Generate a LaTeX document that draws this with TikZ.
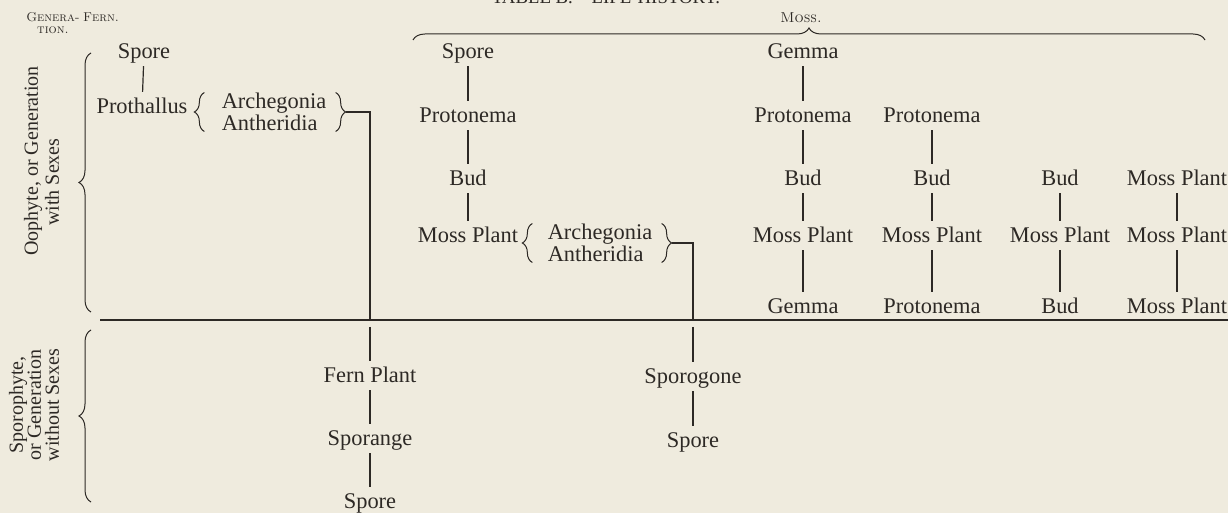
\documentclass[tikz,border=0pt]{standalone}
\usepackage{fontspec}
\newfontfamily\libro{Liberation Serif}
\usetikzlibrary{decorations.pathreplacing}
\definecolor{carta}{RGB}{239,235,222}
\definecolor{inchiostro}{RGB}{45,41,37}

\begin{document}
\begin{tikzpicture}[x=0.5pt, y=-0.5pt,
        voce/.style={inner sep=0pt, text height=7.5pt, text depth=2.3pt, text=inchiostro, font=\libro\fontsize{11.2}{12}\selectfont},
        sessi/.style={inner sep=0pt, align=left, text=inchiostro, font=\libro\fontsize{11.2}{9.5}\selectfont},
        testata/.style={inner sep=0pt, align=center, text=inchiostro, font=\fontsize{6.4}{6}\selectfont\scshape},
        lato/.style={inner sep=0pt, rotate=90, align=center, text=inchiostro, font=\libro\fontsize{10}{9}\selectfont},
        tratto/.style={draw=inchiostro, line width=0.6pt, shorten <=1.5pt, shorten >=3pt},
        graffa/.style={draw=inchiostro, line width=0.5pt, decorate, decoration={brace, amplitude=#1}},
        graffa/.default=5pt]

        % Sfondo
        \fill[carta] (0,0) rectangle (1228,513);
        \useasboundingbox (0,0) rectangle (1228,513);

        % Titolo (tagliato in alto, come nell'originale)
        \node[voce, anchor=base, font=\libro\fontsize{9.4}{10}\selectfont] (titolo) at (606,4) {TABLE B.---LIFE-HISTORY.};

        % Intestazioni
        \node[testata] (generazione) at (53,23) {Genera-\\tion.};
        \node[testata] (felce) at (101,17) {Fern.};
        \node[testata, font=\fontsize{7.2}{7}\selectfont\scshape] (muschio) at (801,18) {Moss.};

        % Generazioni: testo verticale e graffe
        \node[lato] (oofito) at (33,161) {Oophyte, or Generation};
        \node[lato] (consessi) at (52,182) {with Sexes};
        \node[lato] (sporofito) at (34,405) {Sporophyte,\\or Generation\\without Sexes};
        \draw[graffa=6pt] (91,312) -- (91,53);
        \draw[graffa=6pt] (91,502) -- (91,330);

        % Linea di separazione
        \coordinate (divA) at (100,320);
        \coordinate (divB) at (1228,320);
        \draw[inchiostro, line width=0.6pt] (divA) -- (divB);

        % Graffa sopra il muschio
        \draw[graffa=6pt] (413,40) -- (1205,40);

        % Felce
        \node[voce] (fspora) at (144,53) {Spore};
        \node[voce] (protallo) at (142,108) {Prothallus};
        \node[sessi] (fsessi) at (274,112) {Archegonia\\Antheridia};
        \node[voce] (fpianta) at (370,377) {Fern Plant};
        \node[voce] (sporangio) at (370,440) {Sporange};
        \node[voce] (fspora2) at (370,503) {Spore};
        \draw[graffa] ([xshift=-8.5pt]fsessi.south west) -- ([xshift=-8.5pt]fsessi.north west);
        \draw[graffa] ([xshift=4.5pt]fsessi.north east) -- ([xshift=4.5pt]fsessi.south east);
        \coordinate (ftaglio) at (fpianta |- divA);
        \draw[tratto, shorten <=0pt, shorten >=0pt] ([xshift=9.5pt]fsessi.east) -| (ftaglio);
        \draw[tratto, shorten <=0pt] ([yshift=-3.5pt]ftaglio) -- (fpianta);
        \foreach \a/\b in {fspora/protallo, fpianta/sporangio, sporangio/fspora2}
            \draw[tratto] (\a) -- (\b);

        % Muschio: prima colonna con organi sessuali
        \node[sessi] (msessi) at (600,243) {Archegonia\\Antheridia};
        \node[voce] (sporogonio) at (693,378) {Sporogone};
        \node[voce] (mspora2) at (693,442) {Spore};
        \draw[graffa] ([xshift=-7.5pt]msessi.south west) -- ([xshift=-7.5pt]msessi.north west);
        \draw[graffa] ([xshift=4.5pt]msessi.north east) -- ([xshift=4.5pt]msessi.south east);
        \coordinate (mtaglio) at (sporogonio |- divA);
        \draw[tratto, shorten <=0pt, shorten >=0pt] ([xshift=9.5pt]msessi.east) -| (mtaglio);
        \draw[tratto, shorten <=0pt] ([yshift=-3.5pt]mtaglio) -- (sporogonio);
        \draw[tratto] (sporogonio) -- (mspora2);

        % Muschio: le colonne
        \foreach \n/\x/\y/\t in {m1spora/468/53/Spore, m1proto/468/117/Protonema, m1gemmo/468/180/Bud, m1pianta/468/237/Moss Plant,
                m2gemma/803/53/Gemma, m2proto/803/117/Protonema, m2gemmo/803/180/Bud, m2pianta/803/237/Moss Plant, m2gemmab/803/308/Gemma,
                m3proto/932/117/Protonema, m3gemmo/932/180/Bud, m3pianta/932/237/Moss Plant, m3protob/932/308/Protonema,
                m4gemmo/1060/180/Bud, m4pianta/1060/237/Moss Plant, m4gemmob/1060/308/Bud,
                m5pianta/1177/180/Moss Plant, m5piantab/1177/237/Moss Plant, m5piantac/1177/308/Moss Plant}
            \node[voce] (\n) at (\x,\y) {\t};

        \foreach \a/\b in {m1spora/m1proto, m1proto/m1gemmo, m1gemmo/m1pianta,
                m2gemma/m2proto, m2proto/m2gemmo, m2gemmo/m2pianta, m2pianta/m2gemmab,
                m3proto/m3gemmo, m3gemmo/m3pianta, m3pianta/m3protob,
                m4gemmo/m4pianta, m4pianta/m4gemmob,
                m5pianta/m5piantab, m5piantab/m5piantac}
            \draw[tratto] (\a) -- (\b);

    \end{tikzpicture}
\end{document}
